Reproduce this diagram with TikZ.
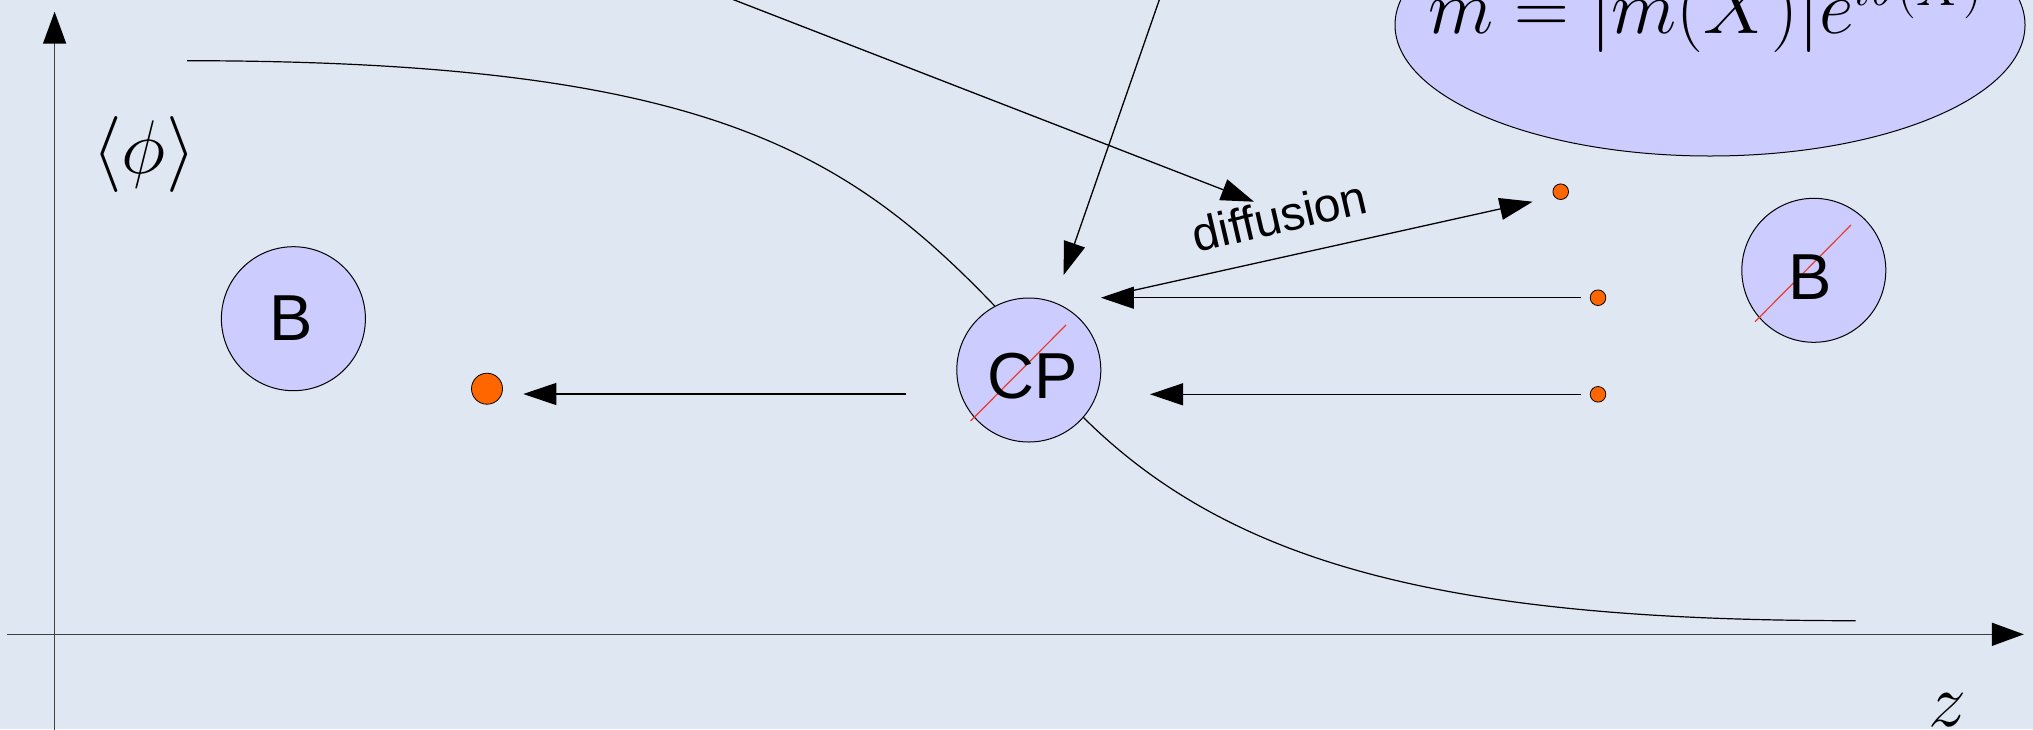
\RequirePackage{fix-cm}
\documentclass[tikz,border=0pt]{standalone}
\usepackage{fontspec}
\setsansfont{Liberation Sans}
\usetikzlibrary{arrows.meta,shapes.geometric}
\definecolor{bg}{RGB}{223,231,242}
\definecolor{blob}{RGB}{204,204,255}
\definecolor{dotc}{RGB}{255,102,0}
\definecolor{redl}{RGB}{232,60,40}
\begin{document}
\begin{tikzpicture}[x=0.5pt,y=-0.5pt,
  thinl/.style={line width=0.6pt, black},
  axis/.style={line width=0.8pt, black!75, -{Triangle[length=16pt,width=11.5pt,color=black]}},
  arr/.style={line width=0.65pt, black, -{Triangle[length=16.5pt,width=11pt]}},
  ball/.style={circle, draw, line width=0.5pt, fill=blob, minimum size=72pt, inner sep=0pt},
  lab/.style={font=\fontsize{32.5}{36}\selectfont\sffamily, inner sep=0pt, anchor=base},
  dot/.style={circle, draw, fill=dotc, line width=0.4pt, inner sep=0pt},
  mth/.style={font=\fontsize{38}{42}\selectfont, inner sep=0pt},
  slash/.style={line width=0.6pt, redl},
]
\useasboundingbox (0,0) rectangle (2033,729);
\fill[bg] (0,0) rectangle (2033,729);
\clip (0,0) rectangle (2033,729);

% axes
\coordinate (yb) at (54.6,745);
\coordinate (yt) at (54.6,11.7);
\coordinate (xl) at (6.5,634.3);
\coordinate (xr) at (2023.8,634.3);
\draw[axis] (yb) -- (yt);
\draw[axis] (xl) -- (xr);
\node[mth] (phi) at (144,154.5) {$\langle\phi\rangle$};
\node[mth, anchor=base] (zl) at (1947,726) {$z$};

% nodes
\node[ball] (B1) at (293.4,318.7) {};
\node[ball] (CP) at (1028.8,370) {};
\node[ball] (B2) at (1813.8,270.3) {};
\node[ellipse, draw, line width=0.5pt, fill=blob, minimum width=315pt, minimum height=131pt, inner sep=0pt] (ell) at (1710,25) {};

\node[dot, minimum size=15.5pt] (d0) at (487,388.7) {};
\node[dot, minimum size=7.8pt] (d1) at (1560.7,191.7) {};
\node[dot, minimum size=7.8pt] (d2) at (1598,297.7) {};
\node[dot, minimum size=7.8pt] (d3) at (1598,394.3) {};

% profile curve
\coordinate (c0) at (187,60.7);
\coordinate (c1) at (1855.5,620.7);
\draw[thinl] (c0) .. controls (700,61) and (844,149) .. (CP.118);
\draw[thinl] (CP.-41) .. controls (1235,568) and (1455,620.7) .. (c1);

% red slashes
\coordinate (r1a) at (970.5,421);
\coordinate (r1b) at (1066,325);
\coordinate (r2a) at (1755,321.7);
\coordinate (r2b) at (1851,225);
\draw[slash] (r1a) -- (r1b);
\draw[slash] (r2a) -- (r2b);

% labels
\node[lab] (tB1) at (291,340) {B};
\node[lab] (tCP) at (1033,398.3) {CP};
\node[lab] (tB2) at (1810.5,299) {B};
\node[mth, anchor=base west] (form) at (1428,33) {$m=|m(X)|e^{i\theta(X)}$};

% arrows
\coordinate (a1s) at (906.2,394);
\coordinate (a1e) at (523.3,394);
\coordinate (a2s) at (1580.8,297.7);
\coordinate (a2e) at (1100.9,297.7);
\coordinate (a3s) at (1580.8,394.3);
\coordinate (a3e) at (1150,394.3);
\coordinate (dfs) at (1132,290.7);
\coordinate (dfe) at (1532.6,201.7);
\coordinate (t1s) at (682.8,-20);
\coordinate (t1e) at (1254,201.7);
\coordinate (t2s) at (1166.2,-20);
\coordinate (t2e) at (1063.6,275);
\draw[arr] (a1s) -- (a1e);
\draw[arr] (a2s) -- (a2e);
\draw[arr] (a3s) -- (a3e);
\draw[arr] (dfs) -- (dfe);
\draw[arr] (t1s) -- (t1e);
\draw[arr] (t2s) -- (t2e);
\node[font=\fontsize{24}{27}\selectfont\sffamily, rotate=13, anchor=base, inner sep=0pt] (dl) at (1283.3,232.5) {diffusion};
\end{tikzpicture}
\end{document}
